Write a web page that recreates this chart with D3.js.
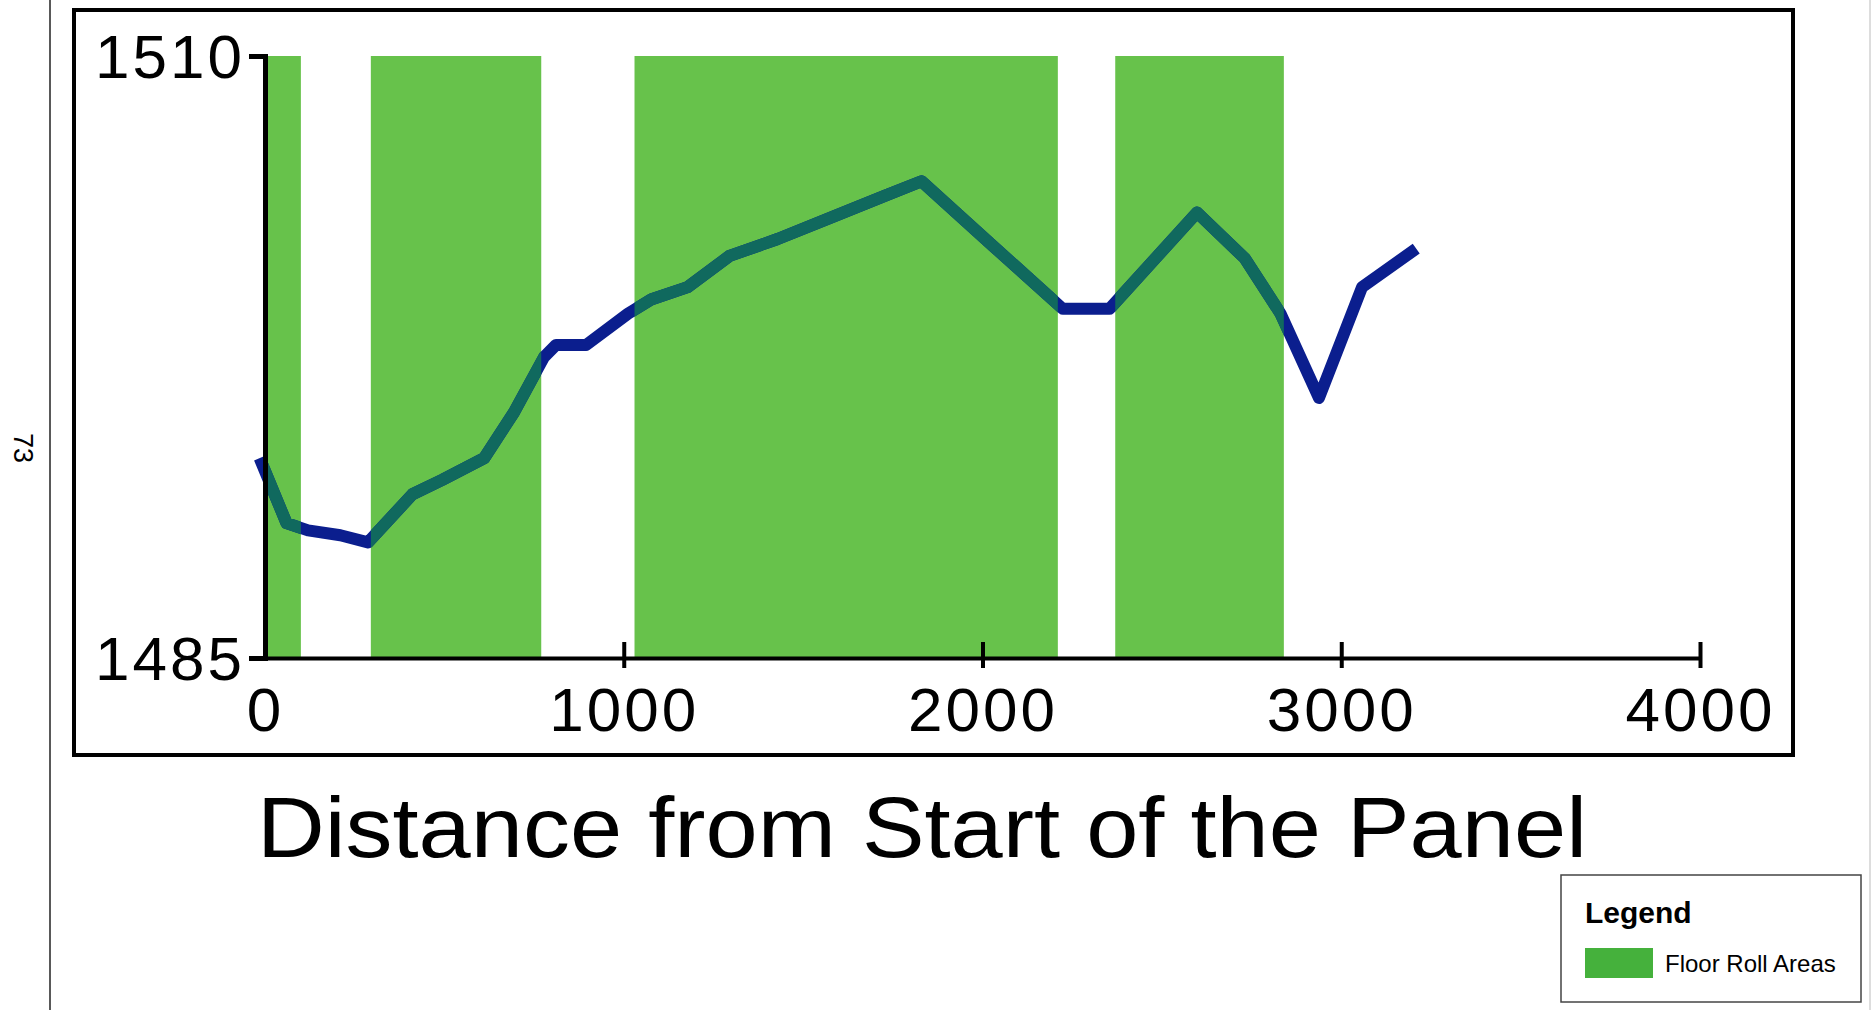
<!DOCTYPE html>
<html>
<head>
<meta charset="utf-8">
<script src="https://cdn.jsdelivr.net/npm/d3@7"></script>
<style>
  body { margin: 0; background: #fff; }
  svg { display: block; }
</style>
</head>
<body>
<script>
// floor elevation profile along the panel
const distance  = [-15, 60, 120, 210, 287, 411, 494, 611, 694, 778, 811, 895, 1012, 1078, 1178, 1295, 1429, 1596, 1729, 1830, 2030, 2224, 2354, 2598, 2731, 2831, 2938, 3058, 3209];
const elevation = [1493.3, 1490.6, 1490.3, 1490.1, 1489.8, 1491.8, 1492.4, 1493.3, 1495.2, 1497.5, 1498.0, 1498.0, 1499.3, 1499.9, 1500.4, 1501.7, 1502.4, 1503.4, 1504.2, 1504.8, 1502.1, 1499.5, 1499.5, 1503.5, 1501.6, 1499.3, 1495.8, 1500.4, 1502.0];

// floor roll areas (start / end distance)
const rollStart = [0, 295, 1030, 2370];
const rollEnd   = [100, 770, 2210, 2840];

const xTicks = [0, 1000, 2000, 3000, 4000];
const yTicks = [1485, 1510];

const width = 1874, height = 1010;
const green = "#67c24b";

const svg = d3.select("body").append("svg")
    .attr("width", width)
    .attr("height", height);

const x = d3.scaleLinear().domain([0, 4000]).range([265, 1700]);
const y = d3.scaleLinear().domain([1485, 1510]).range([658, 56]);

// page edge + page number
svg.append("line")
    .attr("x1", 50).attr("x2", 50).attr("y1", 0).attr("y2", height)
    .attr("stroke", "#222").attr("stroke-width", 1.5);
svg.append("line")
    .attr("x1", 1870).attr("x2", 1870).attr("y1", 0).attr("y2", height)
    .attr("stroke", "#bbb").attr("stroke-width", 1);
svg.append("text")
    .attr("transform", "translate(14,448) rotate(90)")
    .attr("text-anchor", "middle")
    .attr("font-family", "Liberation Sans, Arial, sans-serif")
    .attr("font-size", 27)
    .text("73");

// outer frame
svg.append("rect")
    .attr("x", 74).attr("y", 10)
    .attr("width", 1719).attr("height", 745)
    .attr("fill", "none")
    .attr("stroke", "#000")
    .attr("stroke-width", 4);

// green bands
const bands = rollStart.map((s, i) => ({start: s, end: rollEnd[i]}));
svg.append("g").selectAll("rect")
    .data(bands)
    .join("rect")
        .attr("x", d => x(d.start))
        .attr("y", y(1510))
        .attr("width", d => x(d.end) - x(d.start))
        .attr("height", y(1485) - y(1510))
        .attr("fill", green);

// clip so the line turns teal over the bands
const clip = svg.append("clipPath").attr("id", "bandclip");
clip.selectAll("rect")
    .data(bands)
    .join("rect")
        .attr("x", d => x(d.start))
        .attr("y", 0)
        .attr("width", d => x(d.end) - x(d.start))
        .attr("height", height);

const pts = distance.map((d, i) => [d, elevation[i]]);
const line = d3.line().x(d => x(d[0])).y(d => y(d[1]));

svg.append("path")
    .attr("d", line(pts))
    .attr("fill", "none")
    .attr("stroke", "#0b1e8e")
    .attr("stroke-width", 12)
    .attr("stroke-linejoin", "round");
svg.append("path")
    .attr("d", line(pts))
    .attr("clip-path", "url(#bandclip)")
    .attr("fill", "none")
    .attr("stroke", "#10695e")
    .attr("stroke-width", 12)
    .attr("stroke-linejoin", "round");

// axes
const font = "Liberation Sans, Arial, sans-serif";

const xAxis = svg.append("g")
    .attr("transform", `translate(0,${y(1485)})`)
    .call(d3.axisBottom(x).tickValues(xTicks).tickSizeOuter(0).tickFormat(d3.format("d")));
xAxis.select(".domain").attr("stroke-width", 4).attr("stroke", "#000");
xAxis.selectAll(".tick line")
    .attr("y1", -16).attr("y2", 10)
    .attr("stroke-width", 4).attr("stroke", "#000")
    .filter(d => d === 0).remove();
xAxis.selectAll(".tick text")
    .attr("y", 29).attr("dy", "0.71em")
    .attr("font-family", font)
    .attr("font-size", 62)
    .attr("letter-spacing", 3)
    .attr("fill", "#000");

const yAxis = svg.append("g")
    .attr("transform", `translate(${x(0)},0)`)
    .call(d3.axisLeft(y).tickValues(yTicks).tickSizeOuter(0).tickSize(16).tickFormat(d3.format("d")));
yAxis.select(".domain").attr("stroke-width", 5).attr("stroke", "#000");
yAxis.selectAll(".tick line").attr("stroke-width", 3).attr("stroke", "#000")
    .filter(d => d === 1485).remove();
yAxis.selectAll(".tick text")
    .attr("x", -20).attr("dy", "0.34em")
    .attr("font-family", font)
    .attr("font-size", 62)
    .attr("letter-spacing", 3)
    .attr("fill", "#000");

// x title
svg.append("text")
    .attr("x", 922).attr("y", 857)
    .attr("text-anchor", "middle")
    .attr("font-family", font)
    .attr("font-size", 86)
    .attr("textLength", 1330)
    .attr("lengthAdjust", "spacingAndGlyphs")
    .text("Distance from Start of the Panel");

// legend
const lg = svg.append("g").attr("transform", "translate(1561,875)");
lg.append("rect")
    .attr("width", 300).attr("height", 127)
    .attr("fill", "#fff")
    .attr("stroke", "#444").attr("stroke-width", 1.5);
lg.append("text")
    .attr("x", 24).attr("y", 48)
    .attr("font-family", font)
    .attr("font-weight", "bold")
    .attr("font-size", 30)
    .text("Legend");
lg.append("rect")
    .attr("x", 24).attr("y", 73)
    .attr("width", 68).attr("height", 30)
    .attr("fill", "#45b13c");
lg.append("text")
    .attr("x", 104).attr("y", 97)
    .attr("font-family", font)
    .attr("font-size", 24)
    .text("Floor Roll Areas");
</script>
</body>
</html>
